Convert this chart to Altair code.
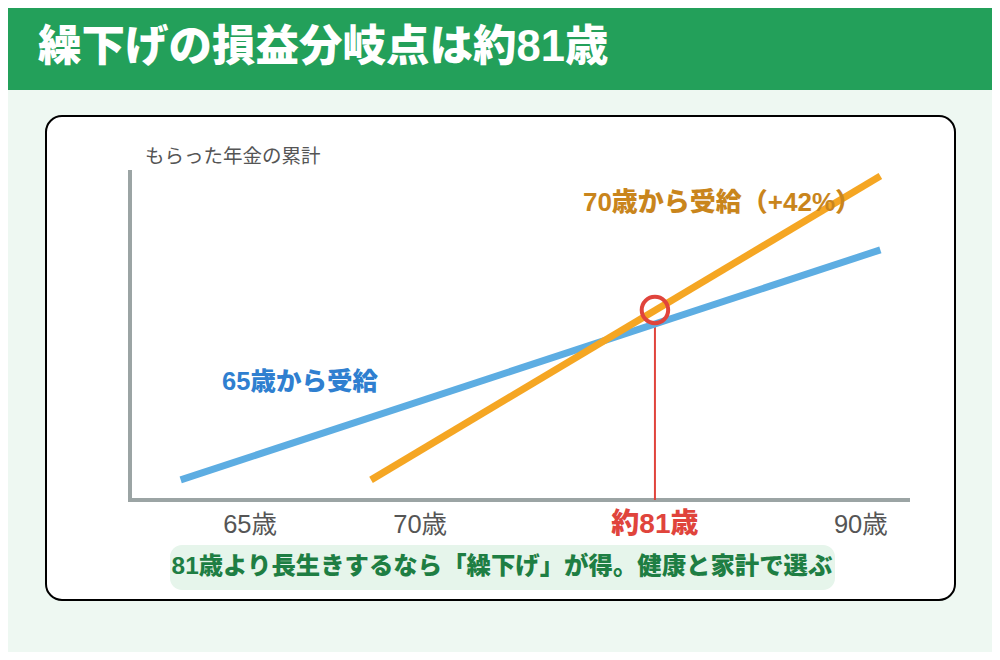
import pandas as pd
import altair as alt

# Latin/digits in an Arial-like face, Japanese from Noto CJK
FONT = "Liberation Sans, Noto Sans CJK JP"

# timeline units: 0-100 across the x axis, 0-100 up the y axis (schematic chart)
tick_pos = [15.4, 37.2, 67.3, 93.7]
tick_labels = ["65歳", "70歳", "約81歳", "90歳"]
tick_is_key = [False, False, True, False]

series_names = ["65歳から受給", "70歳から受給（+42%）"]
early_x = [6.5, 96.2]
early_y = [6.1, 75.8]
late_x = [30.9, 96.2]
late_y = [6.1, 98.2]

breakeven_x = 67.3
breakeven_y = 57.6

title_text = "繰下げの損益分岐点は約81歳"
y_label = "もらった年金の累計"
caption = "81歳より長生きするなら「繰下げ」が得。健康と家計で選ぶ"

lines = pd.DataFrame({
    "x": early_x + late_x,
    "y": early_y + late_y,
    "series": [series_names[0]] * 2 + [series_names[1]] * 2,
})
ticks = pd.DataFrame({"pos": tick_pos, "label": tick_labels, "key": tick_is_key})
point = pd.DataFrame({"x": [breakeven_x], "y": [breakeven_y]})
# the red drop line stops at the bottom of the ring (13px radius, 3.3px per unit)
point["y_top"] = point["y"] - 13 / 3.3
point["y_base"] = 0
one = alt.Data(values=[{}])

x_scale = alt.Scale(domain=[0, 100])
y_scale = alt.Scale(domain=[0, 100])
AXIS_GRAY = "#9ba4a4"

header = alt.Chart(one).mark_rect(color="#23a05a").encode(
    x=alt.value(-122), x2=alt.value(862), y=alt.value(-162), y2=alt.value(-80)
)
title = alt.Chart(one).mark_text(
    text=title_text, font=FONT, fontSize=43.5, fontWeight=900, color="white",
    align="left", baseline="middle",
).encode(x=alt.value(-92), y=alt.value(-122))

card = alt.Chart(one).mark_rect(
    fill="white", stroke="black", strokeWidth=2, cornerRadius=16
).encode(x=alt.value(-84), x2=alt.value(825), y=alt.value(-54), y2=alt.value(430))

ylab = alt.Chart(one).mark_text(
    text=y_label, font=FONT, fontSize=19.5, color="#555555", align="left", baseline="middle"
).encode(x=alt.value(15), y=alt.value(-13))

# axis lines (no ticks in the original)
y_axis_line = alt.Chart(one).mark_rule(color=AXIS_GRAY, strokeWidth=4).encode(
    x=alt.value(0), y=alt.value(0), y2=alt.value(332)
)
x_axis_line = alt.Chart(one).mark_rule(color=AXIS_GRAY, strokeWidth=4).encode(
    x=alt.value(-2), x2=alt.value(780), y=alt.value(330)
)

drop = alt.Chart(point).mark_rule(color="#e0443c", strokeWidth=2).encode(
    x=alt.X("x:Q", scale=x_scale, axis=None),
    y=alt.Y("y_top:Q", scale=y_scale, axis=None),
    y2="y_base:Q",
)

series_lines = alt.Chart(lines).mark_line(strokeWidth=7, strokeCap="butt").encode(
    x=alt.X("x:Q", scale=x_scale, axis=None),
    y=alt.Y("y:Q", scale=y_scale, axis=None),
    color=alt.Color("series:N", scale=alt.Scale(domain=series_names,
                                                range=["#5dade2", "#f5a623"]), legend=None),
    detail="series:N",
)

ring = alt.Chart(point).mark_point(
    shape="circle", size=700, filled=False, stroke="#e0443c", strokeWidth=4, opacity=1
).encode(x=alt.X("x:Q", scale=x_scale, axis=None), y=alt.Y("y:Q", scale=y_scale, axis=None))

early_label = alt.Chart(one).mark_text(
    text=series_names[0], font=FONT, fontSize=25.5, fontWeight=900, color="#2f7fd0",
    align="center", baseline="middle",
).encode(x=alt.value(170), y=alt.value(212))
late_label = alt.Chart(one).mark_text(
    text=series_names[1], font=FONT, fontSize=26, fontWeight=900, color="#c9851c",
    align="center", baseline="middle",
).encode(x=alt.value(592), y=alt.value(33))

tick_base = alt.Chart(ticks).encode(
    x=alt.X("pos:Q", scale=x_scale, axis=None), y=alt.value(355), text="label:N"
)
tick_text = tick_base.transform_filter("!datum.key").mark_text(
    font=FONT, fontSize=25.5, fontWeight=400, color="#555555", baseline="middle"
)
tick_key = tick_base.transform_filter("datum.key").mark_text(
    font=FONT, fontSize=28, fontWeight=900, color="#e0443c", baseline="middle"
)

caption_box = alt.Chart(one).mark_rect(fill="#e6f5eb", cornerRadius=12).encode(
    x=alt.value(40), x2=alt.value(705), y=alt.value(375), y2=alt.value(420)
)
caption_text = alt.Chart(one).mark_text(
    text=caption, font=FONT, fontSize=24.4, fontWeight=900, color="#1e7e43",
    align="center", baseline="middle",
).encode(x=alt.value(372), y=alt.value(397))

chart = alt.layer(
    header, title, card, ylab, y_axis_line, x_axis_line, drop, series_lines, ring,
    early_label, late_label, tick_text, tick_key, caption_box, caption_text,
).properties(
    width=780,
    height=330,
    background="#eef8f2",
    padding={"left": 122, "top": 162, "right": 82, "bottom": 152},
    autosize=alt.AutoSizeParams(type="none"),
).configure_view(strokeWidth=0)

chart.save("out.html", embed_options={"renderer": "svg", "actions": False})
